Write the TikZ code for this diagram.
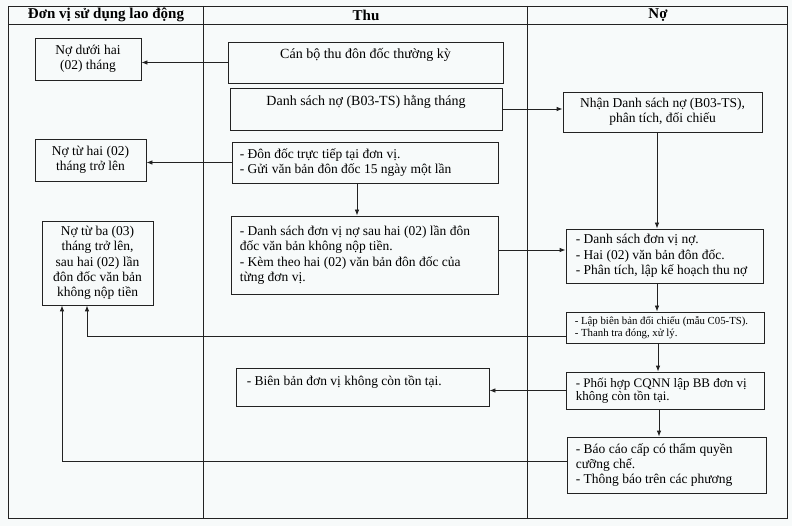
\documentclass[tikz,border=0pt]{standalone}
\usepackage{fontspec}
\setmainfont{Liberation Serif}
\usetikzlibrary{arrows.meta,calc}
\definecolor{ink}{HTML}{222222}
\definecolor{paper}{HTML}{F7FAFA}
\begin{document}
\begin{tikzpicture}[x=1pt,y=-1pt,
  frame/.style={draw=ink, line width=0.8pt, inner sep=0pt, font=\fontsize{13.5}{15.3}\selectfont},
  txt/.style={inner sep=0pt, align=left, font=\fontsize{13.5}{15.3}\selectfont},
  txtl/.style={inner sep=0pt, font=\fontsize{14}{15.4}\selectfont},
  txts/.style={txt, font=\fontsize{10.8}{12}\selectfont},
  txtm/.style={txt, font=\fontsize{13}{13.2}\selectfont},
  hdr/.style={inner sep=0pt, font=\bfseries\fontsize{15}{16}\selectfont},
  arr/.style={draw=ink, line width=0.8pt, -{Latex[length=6pt,width=4.5pt]}},
  grid/.style={draw=ink, line width=0.6pt}]
\fill[paper] (0,0) rectangle (792,526);
\useasboundingbox (0,0) rectangle (792,526);
% table
\draw[grid] (8,6) rectangle (787,518);
\draw[grid] (8,24) -- (787,24);
\draw[grid] (203,6) -- (203,518);
\draw[grid] (527,6) -- (527,518);
\node[hdr] (h1) at (106,15) {Đơn vị sử dụng lao động};
\node[hdr] (h2) at (366,15) {Thu};
\node[hdr] (h3) at (658,15) {Nợ};
% left column
\node[frame, minimum width=106pt, minimum height=42pt, align=center] (L1) at (88,59) {Nợ dưới hai\\(02) tháng};
\node[frame, minimum width=111pt, minimum height=42pt, align=center] (L2) at (90.5,160) {Nợ từ hai (02)\\tháng trở lên};
\node[frame, minimum width=111pt, minimum height=84pt, align=center] (L3) at (97.5,263) {Nợ từ ba (03)\\tháng trở lên,\\sau hai (02) lần\\đôn đốc văn bản\\không nộp tiền};
% middle column
\node[frame, minimum width=275pt, minimum height=41pt] (M1) at (365.5,62.5) {};
\node[txtl] (t1) at ([yshift=8pt]M1.center) {Cán bộ thu đôn đốc thường kỳ};
\node[frame, minimum width=272pt, minimum height=42pt] (M2) at (366,109) {};
\node[txtl] (t2) at ([yshift=7pt]M2.center) {Danh sách nợ (B03-TS) hằng tháng};
\node[frame, minimum width=266pt, minimum height=41pt] (M3) at (365,162.5) {};
\node[txt, anchor=west] (t3) at ([xshift=8pt]M3.west) {- Đôn đốc trực tiếp tại đơn vị.\\- Gửi văn bản đôn đốc 15 ngày một lần};
\node[frame, minimum width=267pt, minimum height=78pt] (M4) at (364.5,255) {};
\node[txt, anchor=west] (t4) at ([xshift=9pt]M4.west) {- Danh sách đơn vị nợ sau hai (02) lần đôn\\đốc văn bản không nộp tiền.\\- Kèm theo hai (02) văn bản đôn đốc của\\từng đơn vị.};
\node[frame, minimum width=253pt, minimum height=38pt] (M5) at (362.5,387) {};
\node[txt, anchor=west] (t5) at ([xshift=11pt,yshift=5pt]M5.west) {- Biên bản đơn vị không còn tồn tại.};
% right column
\node[frame, minimum width=199pt, minimum height=40pt, align=center] (R1) at (662.5,112) {Nhận Danh sách nợ (B03-TS),\\phân tích, đối chiếu};
\node[frame, minimum width=197pt, minimum height=54pt] (R2) at (664.5,256) {};
\node[txt, anchor=west] (t6) at ([xshift=10pt]R2.west) {- Danh sách đơn vị nợ.\\- Hai (02) văn bản đôn đốc.\\- Phân tích, lập kế hoạch thu nợ};
\node[frame, minimum width=198pt, minimum height=31pt] (R3) at (665,327.5) {};
\node[txts, anchor=west] (t7) at ([xshift=9pt]R3.west) {- Lập biên bản đối chiếu (mẫu C05-TS).\\- Thanh tra đóng, xử lý.};
\node[frame, minimum width=198pt, minimum height=37pt] (R4) at (665,390.5) {};
\node[txtm, anchor=west] (t8) at ([xshift=10pt]R4.west) {- Phối hợp CQNN lập BB đơn vị\\không còn tồn tại.};
\node[frame, minimum width=199pt, minimum height=56pt] (R5) at (666.5,465) {};
\node[txt, anchor=west] (t9) at ([xshift=9pt]R5.west) {- Báo cáo cấp có thẩm quyền\\cưỡng chế.\\- Thông báo trên các phương};
% connectors
\draw[arr] (M1.west) -- (M1.west -| L1.east);
\draw[arr] (M2.east) -- (M2.east -| R1.west);
\draw[arr] (M3.west) -- (M3.west -| L2.east);
\draw[arr] ([xshift=-8pt]M3.south) -- ([xshift=-8pt]M3.south |- M4.north);
\draw[arr] ([yshift=5pt]M4.east) -- ([yshift=5pt]M4.east -| R2.west);
\draw[arr] ([xshift=-5.5pt]R1.south) -- ([xshift=-5.5pt]R1.south |- R2.north);
\draw[arr] ([xshift=-7.5pt]R2.south) -- ([xshift=-7.5pt]R2.south |- R3.north);
\draw[arr] ([xshift=-7pt]R3.south) -- ([xshift=-7pt]R3.south |- R4.north);
\draw[arr] ([xshift=-6pt]R4.south) -- ([xshift=-6pt]R4.south |- R5.north);
\draw[arr] (R4.west) -- (R4.west -| M5.east);
\draw[arr] ([yshift=-8.5pt]R3.west) -| ([xshift=-10.5pt]L3.south);
\draw[arr] ([yshift=4pt]R5.west) -| ([xshift=-35.5pt]L3.south);
\end{tikzpicture}
\end{document}
